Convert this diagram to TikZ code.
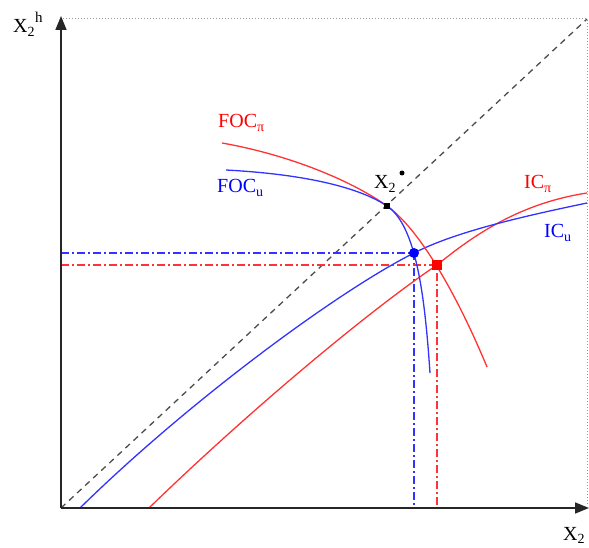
\documentclass[tikz,border=0pt]{standalone}
\usepackage{fontspec}
\setmainfont{Liberation Serif}
\usetikzlibrary{arrows.meta}
\begin{document}
\begin{tikzpicture}[x=1pt,y=-1pt,
  axis/.style={line width=1.6pt, black!85, -{Triangle[length=14pt,width=11pt]}},
  frameline/.style={gray!80, dotted, line width=1pt},
  diag/.style={black!70, line width=1.3pt, dash pattern=on 6pt off 5pt},
  redc/.style={red!80, line width=1.3pt},
  bluec/.style={blue!80, line width=1.3pt},
  dashdotline/.style={line width=1.3pt, dash pattern=on 8pt off 3pt on 2pt off 3pt},
  lab/.style={inner sep=0pt, anchor=base west, font=\fontsize{20}{24}\selectfont},
  sq/.style={rectangle, minimum size=#1, inner sep=0pt}
]
\useasboundingbox (0,0) rectangle (589,548);
% frame points
\coordinate (O) at (61,508);
\coordinate (Ytop) at (61,16);
\coordinate (Xend) at (589,508);
\coordinate (TL) at (63,19);
\coordinate (TR) at (587,19);
\coordinate (BR) at (587,506);
% equilibrium points
\coordinate (S) at (387,206);
\coordinate (B) at (414,253);
\coordinate (R) at (437,265);
\coordinate (Bl) at (61,253);
\coordinate (Bb) at (414,508);
\coordinate (Rl) at (61,265);
\coordinate (Rb) at (437,508);
% curve ends
\coordinate (ICpS) at (149,508);
\coordinate (ICpE) at (587,193);
\coordinate (ICuS) at (80,508);
\coordinate (ICuE) at (587,203);
\coordinate (FpS) at (222,143);
\coordinate (FpE) at (487,367);
\coordinate (FuS) at (226,170);
\coordinate (FuE) at (430,373);

% frame and diagonal
\draw[frameline] (TL) -- (TR) -- (BR);
\draw[diag] (O) -- (TR);

% dash-dot guides
\draw[dashdotline, blue!80] (Bl) -- (B) -- (Bb);
\draw[dashdotline, red!80] (Rl) -- (R) -- (Rb);

% IC curves
\draw[redc] (ICpS) .. controls (250,410) and (370,310) .. (R)
                   .. controls (468,240) and (515,204) .. (ICpE);
\draw[bluec] (ICuS) .. controls (190,400) and (340,290) .. (B)
                    .. controls (455,232) and (520,217) .. (ICuE);
% FOC curves
\draw[redc] (FpS) .. controls (290,155) and (352,181) .. (S)
                  .. controls (418,228) and (455,290) .. (FpE);
\draw[bluec] (FuS) .. controls (300,174) and (357,186) .. (S)
                   .. controls (417,226) and (425,300) .. (FuE);

% axes
\draw[axis] (O) -- (Ytop);
\draw[axis] (O) -- (Xend);

% points
\node[sq=6.5pt, fill=black] (Sdot) at (S) {};
\node[circle, fill=blue, minimum size=10pt, inner sep=0pt] (Bdot) at (B) {};
\node[sq=10pt, fill=red] (Rdot) at (R) {};

% labels
\node[lab, text=red] (focp) at (218,128) {FOC\textsubscript{π}};
\node[lab, text=blue] (focu) at (217,193) {FOC\textsubscript{u}};
\node[lab, text=red] (icp) at (524,189) {IC\textsubscript{π}};
\node[lab, text=blue] (icu) at (544,238) {IC\textsubscript{u}};
\node[lab] (xstar) at (374,189) {X\textsubscript{2}};
\node[circle, fill=black, minimum size=5pt, inner sep=0pt] (stardot) at (402,173) {};
\node[lab] (xh) at (13,33) {X\textsubscript{2}\raisebox{10pt}{\fontsize{15}{18}\selectfont h}};
\node[lab] (xl) at (563,540) {X\textsubscript{2}};
\end{tikzpicture}
\end{document}
